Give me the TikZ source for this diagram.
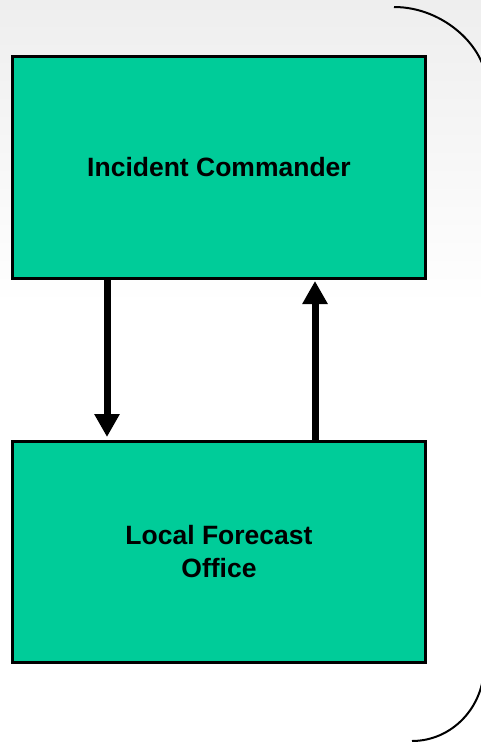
\documentclass[tikz,border=0pt]{standalone}
\usepackage{fontspec}
\setmainfont{Liberation Sans}
\usetikzlibrary{arrows.meta}
\definecolor{boxgreen}{HTML}{00CC99}
\definecolor{bgtop}{HTML}{EEEEEE}
\tikzset{
  box/.style={draw=black, line width=3pt, fill=boxgreen, minimum width=413pt,
    inner sep=0pt, align=center, font=\bfseries\fontsize{26.5}{33}\selectfont},
  arr/.style={line width=7pt, -{Triangle[width=24pt,length=23pt]}},
  bracket/.style={line width=2pt, draw=black}
}
\begin{document}
\begin{tikzpicture}[x=1pt,y=-1pt]
\useasboundingbox (0,0) rectangle (481,742);
\clip (0,0) rectangle (481,742);
\shade[top color=bgtop, bottom color=white] (0,0) rectangle (481,305);
\node[box, minimum height=222pt] (ic) at (219,167.5) {Incident Commander};
\node[box, minimum height=221pt] (lfo) at (219,552) {Local Forecast\\Office};
\draw[arr] ([xshift=-112pt]ic.south) -- ([xshift=-112pt,yshift=3pt]lfo.north);
\draw[arr] ([xshift=96pt]lfo.north) -- ([xshift=96pt,yshift=-1pt]ic.south);
\draw[bracket] (394,7) .. controls (444.8,7) and (486,48.6) .. (486,82) -- (486,666);
\draw[bracket] (484,600) -- (484,666) .. controls (484,707.4) and (451.8,741) .. (412,741);
\end{tikzpicture}
\end{document}
